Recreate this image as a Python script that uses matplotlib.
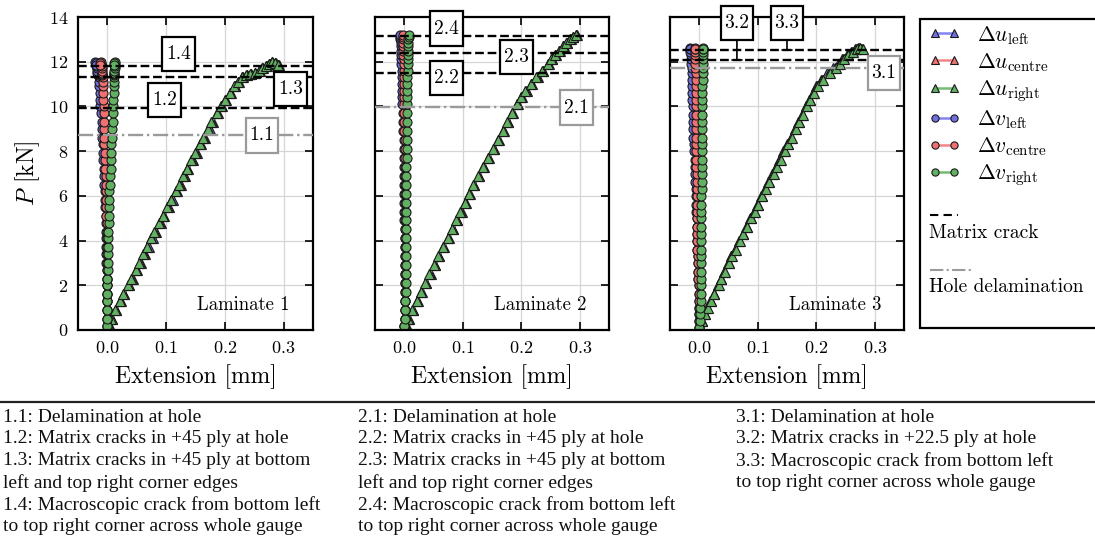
import matplotlib
matplotlib.use("Agg")
import matplotlib.pyplot as plt
from matplotlib.lines import Line2D
from matplotlib.patches import Rectangle
from matplotlib.path import Path

plt.rcParams["font.family"] = "cmr10"
plt.rcParams["mathtext.fontset"] = "cm"
plt.rcParams["axes.formatter.use_mathtext"] = True

# ---- Laminate 1 ----
load_1 = [0.2, 0.5, 0.9, 1.3, 1.6, 2.0, 2.3, 2.7, 3.0, 3.4,
          3.7, 4.1, 4.4, 4.8, 5.1, 5.5, 5.8, 6.2, 6.5, 6.9,
          7.2, 7.6, 7.9, 8.3, 8.6, 9.0, 9.3, 9.7, 10.0, 10.3,
          10.6, 10.9, 11.1, 11.3, 11.4, 11.45, 11.5, 11.6, 11.7, 11.8,
          11.9, 12.0, 11.95, 11.85]
du_left_1 = [0.004, 0.008, 0.015, 0.023, 0.029, 0.037, 0.043, 0.050, 0.057, 0.064,
             0.070, 0.077, 0.083, 0.091, 0.097, 0.105, 0.111, 0.119, 0.125, 0.132,
             0.138, 0.146, 0.152, 0.160, 0.166, 0.174, 0.180, 0.188, 0.195, 0.202,
             0.210, 0.218, 0.224, 0.231, 0.238, 0.245, 0.252, 0.259, 0.265, 0.271,
             0.276, 0.281, 0.287, 0.292]
du_centre_1 = [0.003, 0.008, 0.014, 0.022, 0.028, 0.036, 0.042, 0.049, 0.055, 0.062,
               0.068, 0.075, 0.081, 0.089, 0.095, 0.103, 0.109, 0.117, 0.123, 0.130,
               0.136, 0.144, 0.150, 0.158, 0.164, 0.172, 0.178, 0.187, 0.194, 0.201,
               0.209, 0.217, 0.223, 0.230, 0.237, 0.244, 0.251, 0.258, 0.264, 0.270,
               0.275, 0.280, 0.286, 0.291]
du_right_1 = [0.003, 0.007, 0.013, 0.021, 0.027, 0.035, 0.041, 0.048, 0.054, 0.061,
              0.067, 0.074, 0.080, 0.088, 0.094, 0.102, 0.108, 0.116, 0.122, 0.129,
              0.135, 0.143, 0.149, 0.157, 0.163, 0.171, 0.177, 0.186, 0.193, 0.200,
              0.208, 0.216, 0.222, 0.229, 0.236, 0.243, 0.251, 0.258, 0.264, 0.270,
              0.275, 0.280, 0.286, 0.291]
dv_left_1 = [0.000, 0.000, 0.000, -0.001, -0.001, -0.001, -0.001, -0.001, -0.002, -0.002,
             -0.002, -0.002, -0.003, -0.003, -0.003, -0.004, -0.004, -0.004, -0.005, -0.006,
             -0.006, -0.007, -0.008, -0.008, -0.009, -0.010, -0.010, -0.011, -0.012, -0.012,
             -0.013, -0.014, -0.015, -0.015, -0.016, -0.016, -0.017, -0.017, -0.018, -0.019,
             -0.020, -0.021, -0.020, -0.019]
dv_centre_1 = [0.000, 0.000, 0.000, 0.000, 0.000, 0.000, 0.000, 0.000, -0.001, -0.001,
               -0.001, -0.001, -0.001, -0.001, -0.002, -0.002, -0.002, -0.002, -0.003, -0.003,
               -0.004, -0.004, -0.004, -0.005, -0.005, -0.005, -0.006, -0.006, -0.006, -0.007,
               -0.007, -0.008, -0.008, -0.008, -0.009, -0.009, -0.009, -0.009, -0.010, -0.010,
               -0.011, -0.011, -0.012, -0.012]
dv_right_1 = [0.000, 0.000, 0.000, 0.000, 0.000, 0.000, 0.000, 0.001, 0.001, 0.001,
              0.001, 0.001, 0.001, 0.002, 0.002, 0.002, 0.003, 0.003, 0.004, 0.005,
              0.006, 0.006, 0.007, 0.007, 0.008, 0.008, 0.009, 0.009, 0.010, 0.010,
              0.011, 0.011, 0.011, 0.012, 0.012, 0.012, 0.012, 0.012, 0.013, 0.013,
              0.013, 0.013, 0.012, 0.011]
delam_1 = [8.72]
cracks_1 = [9.91, 11.30, 11.82]

# ---- Laminate 2 ----
load_2 = [0.2, 0.5, 0.9, 1.3, 1.7, 2.1, 2.5, 2.9, 3.3, 3.7,
          4.1, 4.5, 4.9, 5.3, 5.7, 6.1, 6.5, 6.9, 7.3, 7.7,
          8.1, 8.5, 8.9, 9.3, 9.7, 10.1, 10.4, 10.7, 11.0, 11.3,
          11.6, 11.9, 12.1, 12.3, 12.5, 12.7, 12.85, 13.0, 13.1, 13.2]
du_left_2 = [0.004, 0.008, 0.015, 0.023, 0.030, 0.038, 0.045, 0.053, 0.060, 0.068,
             0.076, 0.084, 0.091, 0.098, 0.105, 0.112, 0.120, 0.128, 0.136, 0.145,
             0.154, 0.162, 0.170, 0.178, 0.186, 0.194, 0.201, 0.209, 0.218, 0.228,
             0.238, 0.247, 0.253, 0.259, 0.266, 0.273, 0.279, 0.285, 0.289, 0.295]
du_centre_2 = [0.003, 0.008, 0.015, 0.022, 0.029, 0.037, 0.044, 0.052, 0.059, 0.067,
               0.075, 0.083, 0.090, 0.097, 0.104, 0.111, 0.119, 0.127, 0.135, 0.144,
               0.153, 0.161, 0.169, 0.177, 0.185, 0.193, 0.200, 0.208, 0.217, 0.227,
               0.237, 0.246, 0.252, 0.258, 0.265, 0.272, 0.278, 0.284, 0.288, 0.294]
du_right_2 = [0.003, 0.007, 0.014, 0.021, 0.028, 0.036, 0.043, 0.051, 0.058, 0.066,
              0.074, 0.082, 0.089, 0.096, 0.103, 0.110, 0.118, 0.126, 0.134, 0.143,
              0.152, 0.160, 0.168, 0.176, 0.184, 0.192, 0.199, 0.207, 0.216, 0.226,
              0.236, 0.245, 0.251, 0.257, 0.264, 0.271, 0.277, 0.283, 0.288, 0.294]
dv_left_2 = [0.000, 0.001, 0.001, 0.001, 0.001, 0.001, 0.001, 0.001, 0.001, 0.001,
             0.001, 0.001, 0.000, 0.000, 0.000, 0.000, 0.000, 0.000, -0.001, -0.001,
             -0.001, -0.001, -0.002, -0.002, -0.002, -0.003, -0.003, -0.003, -0.004, -0.004,
             -0.004, -0.005, -0.005, -0.005, -0.006, -0.006, -0.006, -0.007, -0.007, -0.007]
dv_centre_2 = [0.000, 0.001, 0.001, 0.001, 0.001, 0.002, 0.002, 0.002, 0.002, 0.002,
               0.002, 0.002, 0.002, 0.002, 0.002, 0.002, 0.001, 0.001, 0.001, 0.001,
               0.001, 0.001, 0.000, 0.000, 0.000, 0.000, 0.000, -0.001, -0.001, -0.001,
               -0.001, -0.001, -0.001, -0.002, -0.002, -0.002, -0.002, -0.002, -0.002, -0.002]
dv_right_2 = [0.000, 0.001, 0.002, 0.002, 0.003, 0.003, 0.003, 0.003, 0.003, 0.003,
              0.003, 0.003, 0.003, 0.003, 0.003, 0.003, 0.003, 0.003, 0.003, 0.004,
              0.004, 0.004, 0.004, 0.004, 0.004, 0.004, 0.005, 0.005, 0.005, 0.005,
              0.006, 0.006, 0.006, 0.006, 0.007, 0.007, 0.007, 0.007, 0.008, 0.008]
delam_2 = [9.96]
cracks_2 = [11.48, 12.40, 13.15]

# ---- Laminate 3 ----
load_3 = [0.1, 0.4, 0.7, 1.0, 1.3, 1.6, 2.0, 2.3, 2.6, 3.0,
          3.3, 3.6, 4.0, 4.3, 4.6, 5.0, 5.3, 5.6, 6.0, 6.3,
          6.6, 7.0, 7.3, 7.6, 8.0, 8.3, 8.6, 9.0, 9.3, 9.6,
          10.0, 10.3, 10.6, 10.9, 11.2, 11.5, 11.7, 11.9, 12.1, 12.3,
          12.45, 12.55, 12.6, 12.55]
du_left_3 = [0.001, 0.004, 0.008, 0.014, 0.019, 0.025, 0.032, 0.037, 0.043, 0.049,
             0.055, 0.061, 0.068, 0.074, 0.080, 0.087, 0.093, 0.099, 0.106, 0.112,
             0.118, 0.125, 0.131, 0.137, 0.144, 0.150, 0.156, 0.163, 0.169, 0.175,
             0.182, 0.188, 0.194, 0.200, 0.208, 0.219, 0.229, 0.237, 0.244, 0.252,
             0.259, 0.266, 0.271, 0.277]
du_centre_3 = [0.001, 0.005, 0.009, 0.014, 0.020, 0.025, 0.032, 0.038, 0.043, 0.050,
               0.055, 0.061, 0.068, 0.074, 0.081, 0.088, 0.094, 0.100, 0.107, 0.113,
               0.119, 0.126, 0.132, 0.138, 0.145, 0.151, 0.157, 0.164, 0.170, 0.176,
               0.183, 0.189, 0.195, 0.202, 0.210, 0.222, 0.232, 0.239, 0.246, 0.254,
               0.261, 0.268, 0.273, 0.279]
du_right_3 = [0.001, 0.005, 0.009, 0.015, 0.020, 0.026, 0.033, 0.038, 0.044, 0.050,
              0.056, 0.062, 0.069, 0.075, 0.082, 0.089, 0.095, 0.101, 0.108, 0.114,
              0.120, 0.127, 0.133, 0.139, 0.146, 0.152, 0.158, 0.165, 0.171, 0.177,
              0.184, 0.190, 0.196, 0.203, 0.212, 0.224, 0.234, 0.241, 0.247, 0.255,
              0.262, 0.269, 0.274, 0.280]
dv_left_3 = [0.000, 0.000, 0.000, -0.001, -0.001, -0.001, -0.001, -0.002, -0.002, -0.002,
             -0.002, -0.003, -0.003, -0.003, -0.004, -0.004, -0.005, -0.005, -0.006, -0.006,
             -0.007, -0.007, -0.008, -0.008, -0.009, -0.009, -0.010, -0.010, -0.011, -0.011,
             -0.011, -0.012, -0.012, -0.012, -0.013, -0.013, -0.013, -0.014, -0.014, -0.014,
             -0.015, -0.015, -0.015, -0.015]
dv_centre_3 = [0.000, 0.000, 0.000, -0.001, -0.001, -0.001, -0.001, -0.002, -0.002, -0.002,
               -0.002, -0.003, -0.003, -0.003, -0.003, -0.004, -0.004, -0.004, -0.004, -0.004,
               -0.004, -0.004, -0.005, -0.005, -0.005, -0.005, -0.005, -0.005, -0.005, -0.005,
               -0.006, -0.006, -0.006, -0.006, -0.006, -0.006, -0.007, -0.007, -0.007, -0.007,
               -0.007, -0.007, -0.007, -0.007]
dv_right_3 = [0.000, 0.001, 0.002, 0.002, 0.003, 0.003, 0.003, 0.003, 0.003, 0.003,
              0.003, 0.003, 0.003, 0.003, 0.003, 0.003, 0.003, 0.003, 0.003, 0.004,
              0.004, 0.004, 0.004, 0.004, 0.004, 0.004, 0.004, 0.004, 0.005, 0.005,
              0.005, 0.005, 0.005, 0.005, 0.006, 0.006, 0.006, 0.006, 0.006, 0.006,
              0.007, 0.007, 0.007, 0.007]
delam_3 = [11.70]
cracks_3 = [12.07, 12.52]

laminate_names = ["Laminate 1", "Laminate 2", "Laminate 3"]
series_labels = [r"$\Delta u_{\mathrm{left}}$", r"$\Delta u_{\mathrm{centre}}$",
                 r"$\Delta u_{\mathrm{right}}$", r"$\Delta v_{\mathrm{left}}$",
                 r"$\Delta v_{\mathrm{centre}}$", r"$\Delta v_{\mathrm{right}}$"]
x_ticks = [0.0, 0.1, 0.2, 0.3]
y_ticks = [0, 2, 4, 6, 8, 10, 12, 14]

notes = [
    ["1.1: Delamination at hole",
     "1.2: Matrix cracks in +45 ply at hole",
     "1.3: Matrix cracks in +45 ply at bottom",
     "left and top right corner edges",
     "1.4: Macroscopic crack from bottom left",
     "to top right corner across whole gauge"],
    ["2.1: Delamination at hole",
     "2.2: Matrix cracks in +45 ply at hole",
     "2.3: Matrix cracks in +45 ply at bottom",
     "left and top right corner edges",
     "2.4: Macroscopic crack from bottom left",
     "to top right corner across whole gauge"],
    ["3.1: Delamination at hole",
     "3.2: Matrix cracks in +22.5 ply at hole",
     "3.3: Macroscopic crack from bottom left",
     "to top right corner across whole gauge"],
]

laminates = [
    dict(load=load_1, series=[du_left_1, du_centre_1, du_right_1, dv_left_1, dv_centre_1, dv_right_1],
         delam=delam_1, cracks=cracks_1,
         delam_tags=["1.1"], crack_tags=["1.2", "1.3", "1.4"]),
    dict(load=load_2, series=[du_left_2, du_centre_2, du_right_2, dv_left_2, dv_centre_2, dv_right_2],
         delam=delam_2, cracks=cracks_2,
         delam_tags=["2.1"], crack_tags=["2.2", "2.3", "2.4"]),
    dict(load=load_3, series=[du_left_3, du_centre_3, du_right_3, dv_left_3, dv_centre_3, dv_right_3],
         delam=delam_3, cracks=cracks_3,
         delam_tags=["3.1"], crack_tags=["3.2", "3.3"]),
]

# where the tag boxes sit (data coords), and whether a leader line is drawn
tag_place = {
    "1.1": (0.263, 8.70, False), "1.2": (0.097, 10.30, False),
    "1.3": (0.312, 10.78, False), "1.4": (0.121, 12.35, False),
    "2.1": (0.295, 9.95, False), "2.2": (0.0725, 11.28, False),
    "2.3": (0.192, 12.22, False), "2.4": (0.0725, 13.48, False),
    "3.1": (0.316, 11.48, False), "3.2": (0.0644, 13.74, True),
    "3.3": (0.150, 13.74, True),
}

blue, red, green = "#6f6fe0", "#ee7070", "#62b062"
line_cols = ["#8282f2", "#f58585", "#74bc74"]
styles = [("^", blue, line_cols[0]), ("^", red, line_cols[1]), ("^", green, line_cols[2]),
          ("o", blue, line_cols[0]), ("o", red, line_cols[1]), ("o", green, line_cols[2])]
grey = "#9a9a9a"


def tag_box(x0, y0, width, height, mutation_size):
    # square box, tall padding like the LaTeX \fbox tags
    px, py = 0.2 * mutation_size, 0.42 * mutation_size
    x0, y0 = x0 - px, y0 - py
    x1, y1 = x0 + width + 2 * px, y0 + height + 2 * py
    return Path([(x0, y0), (x1, y0), (x1, y1), (x0, y1), (x0, y0)], closed=True)


W, H = 1095, 560
fig = plt.figure(figsize=(W / 100, H / 100), dpi=100)
axes_px = [(78, 17, 313, 330), (375, 17, 609, 330), (670, 17, 904, 330)]

handles = []
for i, (lam, (l, t, r, b)) in enumerate(zip(laminates, axes_px)):
    ax = fig.add_axes([l / W, 1 - b / H, (r - l) / W, (b - t) / H])
    for k, (xs, (mk, fc, lc)) in enumerate(zip(lam["series"], styles)):
        ms = 7 if mk == "^" else 6.5
        h, = ax.plot(xs, lam["load"], color=lc, lw=1.3, marker=mk, ms=ms,
                     mfc=fc, mec="#1a1a1a", mew=0.8, zorder=2 + k * 0.01)
        if i == 0:
            handles.append(h)

    for lvl in lam["delam"]:
        ax.axhline(lvl, color=grey, ls="-.", lw=1.7, zorder=3)
    for lvl in lam["cracks"]:
        ax.axhline(lvl, color="k", ls="--", lw=1.7, zorder=3)

    tags = list(zip(lam["delam_tags"], lam["delam"], [grey] * len(lam["delam"]))) + \
        list(zip(lam["crack_tags"], lam["cracks"], ["k"] * len(lam["cracks"])))
    for tag, lvl, ec in tags:
        tx, ty, leader = tag_place[tag]
        box = dict(boxstyle=tag_box, fc="white", ec=ec, lw=1.6)
        if leader:
            ax.annotate(tag, xy=(tx, lvl), xytext=(tx, ty), ha="center", va="center",
                        fontsize=14, bbox=box, zorder=6, annotation_clip=False,
                        arrowprops=dict(arrowstyle="-[,widthB=0.25,lengthB=0",
                                        color="k", lw=1.2, shrinkA=0, shrinkB=0))
        else:
            ax.text(tx, ty, tag, ha="center", va="center", fontsize=14,
                    bbox=box, zorder=6, clip_on=False)

    ax.text(0.902, 0.08, laminate_names[i], transform=ax.transAxes,
            ha="right", va="center", fontsize=13.5, zorder=6)

    ax.set_xlim(-0.05, 0.35)
    ax.set_ylim(0, 14)
    ax.set_xticks(x_ticks)
    ax.set_yticks(y_ticks)
    ax.grid(True, color="#d6d6d6", lw=0.9)
    ax.set_axisbelow(True)
    ax.tick_params(direction="in", top=True, right=True, length=6, width=1.2,
                   labelsize=13, pad=7)
    for sp in ax.spines.values():
        sp.set_linewidth(1.6)
    ax.set_xlabel("Extension [mm]", fontsize=17, labelpad=6)
    if i == 0:
        ax.set_ylabel(r"$P$ [kN]", fontsize=17, labelpad=5)
    else:
        ax.set_yticklabels([])

# legend panel
fig.add_artist(Rectangle((920 / W, 1 - 328 / H), 200 / W, 309 / H, transform=fig.transFigure,
                         fc="white", ec="k", lw=1.6, clip_on=False))
leg = fig.legend(handles, series_labels, loc="upper left", bbox_to_anchor=(929 / W, 1 - 24 / H),
                 frameon=False, numpoints=2, fontsize=15.5, handlelength=1.45, handletextpad=0.78,
                 borderpad=0, borderaxespad=0, labelspacing=0.2, markerscale=0.8)
for lh in leg.get_lines():
    lh.set_linewidth(1.8)
fig.add_artist(Line2D([930 / W, 958 / W], [1 - 215 / H] * 2, transform=fig.transFigure,
                      color="k", lw=1.5, ls=(0, (4, 2.5))))
fig.text(929 / W, 1 - 233 / H, "Matrix crack", fontsize=14, va="center", ha="left")
fig.add_artist(Line2D([930 / W, 972 / W], [1 - 270 / H] * 2, transform=fig.transFigure,
                      color=grey, lw=1.5, ls="-."))
fig.text(929 / W, 1 - 287 / H, "Hole delamination", fontsize=14, va="center", ha="left")

# notes below the plots
fig.add_artist(Line2D([0, 1], [1 - 402 / H] * 2, transform=fig.transFigure, color="#222222", lw=1.6))
col_x = [3, 358, 736]
for cx, lines in zip(col_x, notes):
    for j, s in enumerate(lines):
        fig.text(cx / W, 1 - (417 + 21.9 * j) / H, s, family="Liberation Serif",
                 fontsize=14, va="center", ha="left", color="#111111")

fig.savefig("out.png", dpi=100)
